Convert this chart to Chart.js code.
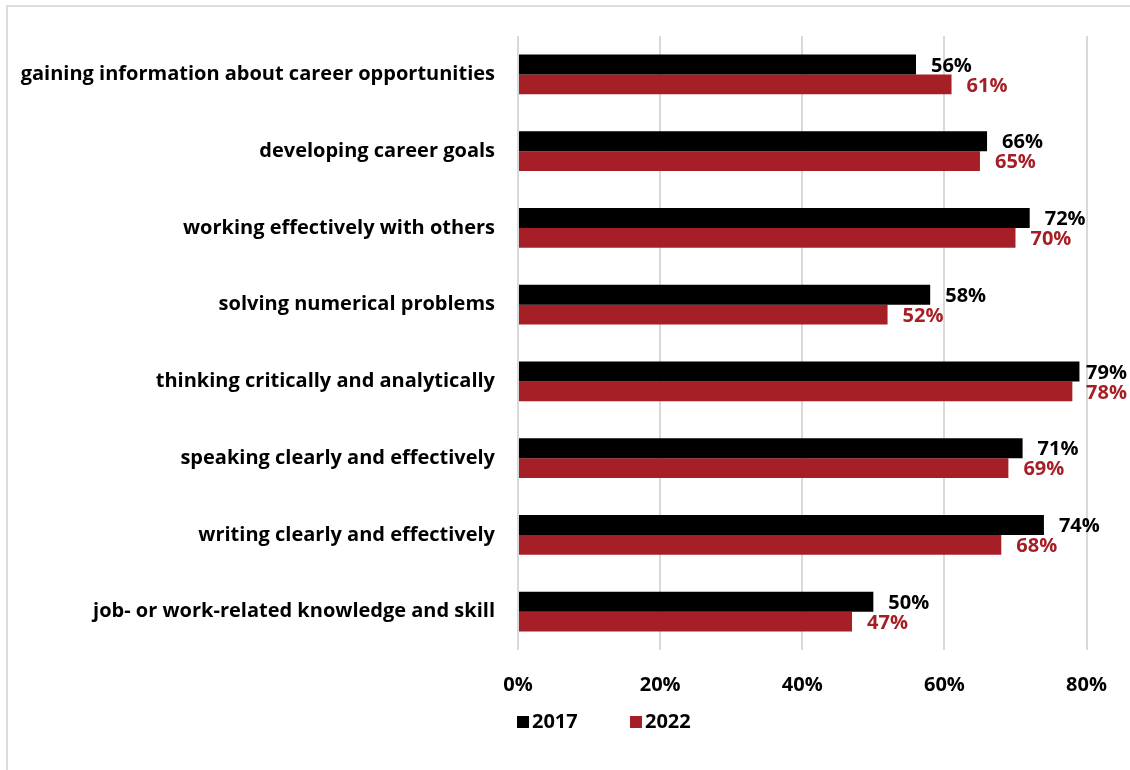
<!DOCTYPE html>
<html>
<head>
<meta charset="utf-8">
<script src="https://cdn.jsdelivr.net/npm/chart.js@4/dist/chart.umd.min.js"></script>
<style>
  html, body { margin: 0; padding: 0; background: #fff; }
  #wrap { position: relative; width: 1130px; height: 770px; overflow: hidden; }
  #frame { position: absolute; left: 6px; top: 5px; width: 1140px; height: 780px;
           border: 2px solid #dcdcdc; box-sizing: border-box; }
  canvas { position: absolute; left: 0; top: 0; }
</style>
</head>
<body>
<div id="wrap">
  <div id="frame"></div>
  <canvas id="c" width="1130" height="770"></canvas>
</div>
<script>
const categories = [
  'gaining information about career opportunities',
  'developing career goals',
  'working effectively with others',
  'solving numerical problems',
  'thinking critically and analytically',
  'speaking clearly and effectively',
  'writing clearly and effectively',
  'job- or work-related knowledge and skill'
];
const values2017 = [56, 66, 72, 58, 79, 71, 74, 50];
const values2022 = [61, 65, 70, 52, 78, 69, 68, 47];
const seriesNames = ['2017', '2022'];
const xTicks = [0, 20, 40, 60, 80];

const BLACK = '#000000';
const RED = '#A71F26';
const FONT = "'Open Sans', sans-serif";
const FSIZE = 20;

// value labels at the end of each bar, kept inside the canvas
const valueLabels = {
  id: 'valueLabels',
  afterDatasetsDraw(chart) {
    const ctx = chart.ctx;
    ctx.save();
    ctx.font = 'bold ' + FSIZE + 'px ' + FONT;
    ctx.textAlign = 'left';
    ctx.textBaseline = 'middle';
    chart.data.datasets.forEach((ds, i) => {
      const meta = chart.getDatasetMeta(i);
      ctx.fillStyle = ds.backgroundColor;
      meta.data.forEach((bar, j) => {
        const txt = ds.data[j] + '%';
        const w = ctx.measureText(txt).width;
        const x = Math.min(bar.x + 15, chart.width - 3 - w);
        ctx.fillText(txt, x, bar.y + 1.5);
      });
    });
    ctx.restore();
  }
};

// legend below the axis, starting at the plot's left edge
const bottomLegend = {
  id: 'bottomLegend',
  afterDraw(chart) {
    const ctx = chart.ctx;
    const x0 = chart.chartArea.left - 1;
    const y = 722;
    ctx.save();
    ctx.font = 'bold ' + FSIZE + 'px ' + FONT;
    ctx.textAlign = 'left';
    ctx.textBaseline = 'middle';
    let x = x0;
    chart.data.datasets.forEach((ds) => {
      ctx.fillStyle = ds.backgroundColor;
      ctx.fillRect(x, y - 6, 12, 12);
      ctx.fillStyle = '#000';
      ctx.fillText(ds.label, x + 15, y);
      x += 113;
    });
    ctx.restore();
  }
};

new Chart(document.getElementById('c'), {
  type: 'bar',
  data: {
    labels: categories,
    datasets: [
      { label: seriesNames[0], data: values2017, backgroundColor: BLACK },
      { label: seriesNames[1], data: values2022, backgroundColor: RED }
    ]
  },
  options: {
    indexAxis: 'y',
    responsive: false,
    animation: false,
    devicePixelRatio: 1,
    layout: { padding: { left: 8, top: 36, right: 43, bottom: 60 } },
    datasets: { bar: { categoryPercentage: 0.52, barPercentage: 1.0 } },
    plugins: {
      legend: { display: false },
      tooltip: { enabled: false }
    },
    scales: {
      x: {
        min: 0,
        max: 80,
        afterBuildTicks(scale) { scale.ticks = xTicks.map(v => ({ value: v })); },
        afterFit(scale) { scale.height = 60; },
        grid: { color: '#d9d9d9', lineWidth: 2, drawTicks: false },
        border: { display: false },
        ticks: {
          padding: 23,
          color: '#000',
          font: { family: FONT, size: FSIZE, weight: 'bold' },
          callback: v => v + '%'
        }
      },
      y: {
        afterFit(scale) { scale.width = 510; },
        grid: { display: false, drawTicks: false },
        border: { display: false },
        ticks: {
          padding: 23,
          color: '#000',
          font: { family: FONT, size: FSIZE, weight: 'bold' }
        }
      }
    }
  },
  plugins: [valueLabels, bottomLegend]
});
</script>
</body>
</html>
